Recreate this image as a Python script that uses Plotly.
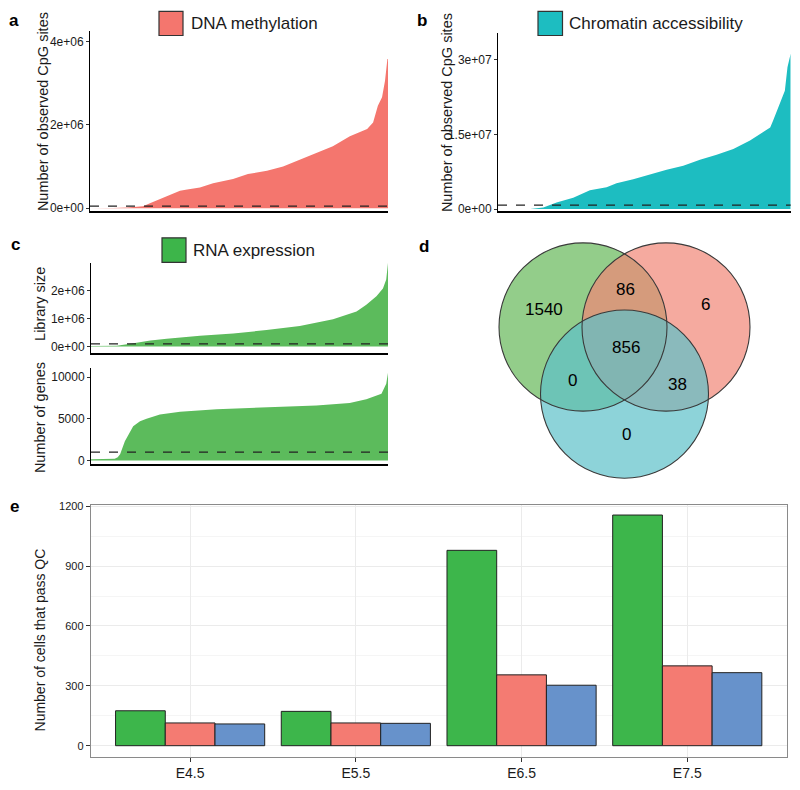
import plotly.graph_objects as go

# ---------------- data ----------------
# a: DNA methylation - observed CpG sites per cell (cells ranked, rank scaled 0..1)
met_rank = [0, 0.067, 0.077, 0.124, 0.178, 0.201, 0.258, 0.302, 0.326, 0.369, 0.413, 0.48, 0.53,
            0.594, 0.648, 0.705, 0.762, 0.815, 0.872, 0.93, 0.95, 0.966, 0.98, 0.99, 0.998, 1.0]
met_sites = [0, 0, 5e3, 2e4, 5e4, 1.2e5, 2.8e5, 4.2e5, 4.5e5, 5.0e5, 6.0e5, 7.0e5, 8.2e5,
             9.0e5, 1.0e6, 1.17e6, 1.33e6, 1.49e6, 1.73e6, 1.9e6, 2.06e6, 2.46e6, 2.66e6, 3.06e6, 3.58e6, 3.58e6]
met_threshold = 5e4
met_ticks = [0, 2e6, 4e6]
met_ticktext = ["0e+00", "2e+06", "4e+06"]

# b: Chromatin accessibility - observed CpG sites per cell
acc_rank = [0, 0.11, 0.155, 0.2, 0.257, 0.314, 0.371, 0.405, 0.462, 0.519, 0.576, 0.633, 0.69,
            0.747, 0.804, 0.861, 0.895, 0.93, 0.94, 0.963, 0.98, 0.989, 0.999, 1.0]
acc_sites = [0, 0, 3e5, 1.3e6, 2.3e6, 3.8e6, 4.4e6, 5.2e6, 6.0e6, 7.0e6, 7.9e6, 8.7e6, 9.9e6,
             1.09e7, 1.21e7, 1.38e7, 1.51e7, 1.64e7, 1.78e7, 2.15e7, 2.38e7, 2.85e7, 3.13e7, 3.13e7]
acc_threshold = 8e5
acc_ticks = [0, 1.5e7, 3e7]
acc_ticktext = ["0e+00", "1.5e+07", "3e+07"]

# c: RNA expression - library size and number of expressed genes per cell
lib_rank = [0, 0.087, 0.143, 0.2, 0.255, 0.367, 0.479, 0.591, 0.703, 0.815, 0.894, 0.927, 0.961, 0.983, 0.994, 1.0]
lib_size = [2e4, 3e4, 1.2e5, 2.2e5, 2.8e5, 3.9e5, 4.7e5, 5.9e5, 7.4e5, 9.8e5, 1.26e6, 1.5e6, 1.8e6, 2.08e6, 2.4e6, 3.0e6]
lib_threshold = 1e5
lib_ticks = [0, 1e6, 2e6]
lib_ticktext = ["0e+00", "1e+06", "2e+06"]

gene_rank = [0, 0.08, 0.09, 0.098, 0.114, 0.131, 0.142, 0.165, 0.187, 0.232, 0.3, 0.423, 0.591,
             0.759, 0.871, 0.927, 0.978, 0.994, 1.0]
n_genes = [150, 200, 400, 750, 2300, 3500, 4100, 4700, 5000, 5500, 5850, 6150, 6350,
           6600, 6900, 7350, 8000, 9200, 10500]
gene_threshold = 1000
gene_ticks = [0, 5000, 10000]
gene_ticktext = ["0", "5000", "10000"]

# d: Venn diagram of cells passing QC
venn_labels = ["1540", "86", "6", "856", "0", "38", "0"]   # RNA only, RNA&met, met only, all, RNA&acc, met&acc, acc only

# e: number of cells that pass QC per stage
stages = ["E4.5", "E5.5", "E6.5", "E7.5"]
rna_pass = [175, 172, 979, 1156]
met_pass = [114, 114, 355, 400]
acc_pass = [109, 112, 303, 366]
qc_ticks = [0, 300, 600, 900, 1200]

# ---------------- styling ----------------
W, H = 800, 790
# how the photographed page maps figure pixels to picture pixels
OFF_X = 8
OFF_Y = 11.7
SY = 0.987
FONT = "Liberation Sans, Arial, Helvetica, sans-serif"
C_MET = "#F4766E"
C_ACC = "#1DBDC1"
C_RNA = "#5CBB5C"
C_RNA_KEY = "#3DB54A"
C_E_GREEN = "#3DB64B"
C_E_RED = "#F47B72"
C_E_BLUE = "#6792CB"
TXT = "#1a1a1a"


def px(x):
    return (x - OFF_X) / W


def py(y):
    return 1 - (y / SY - OFF_Y) / H


fig = go.Figure()

area_common = dict(mode="lines", fill="tozeroy", line=dict(width=0), hoverinfo="skip", showlegend=False)
fig.add_trace(go.Scatter(x=met_rank, y=met_sites, fillcolor=C_MET, line_color=C_MET, xaxis="x", yaxis="y", **area_common))
fig.add_trace(go.Scatter(x=acc_rank, y=acc_sites, fillcolor=C_ACC, line_color=C_ACC, xaxis="x2", yaxis="y2", **area_common))
fig.add_trace(go.Scatter(x=lib_rank, y=lib_size, fillcolor=C_RNA, line_color=C_RNA, xaxis="x3", yaxis="y3", **area_common))
fig.add_trace(go.Scatter(x=gene_rank, y=n_genes, fillcolor=C_RNA, line_color=C_RNA, xaxis="x4", yaxis="y4", **area_common))

bar_line = dict(color="#222222", width=1)
for vals, col, name in [(rna_pass, C_E_GREEN, "RNA expression"),
                        (met_pass, C_E_RED, "DNA methylation"),
                        (acc_pass, C_E_BLUE, "Chromatin accessibility")]:
    fig.add_trace(go.Bar(x=stages, y=vals, name=name, marker=dict(color=col, line=bar_line),
                         xaxis="x6", yaxis="y6", showlegend=False))


def small_xaxis(dom, anchor):
    return dict(domain=dom, range=[0, 1], showticklabels=False, ticks="", showgrid=False, anchor=anchor,
                zeroline=False, showline=True, linecolor="black", linewidth=1.5, fixedrange=True)


def small_yaxis(dom, rng, tv, tt, anchor):
    return dict(domain=dom, range=rng, tickvals=tv, ticktext=tt, ticks="outside", ticklen=3,
                tickcolor="#333", tickfont=dict(size=12, color=TXT, family=FONT), showgrid=False,
                zeroline=False, showline=True, linecolor="black", linewidth=1, anchor=anchor)


layout = dict(
    width=W, height=H, margin=dict(l=0, r=0, t=0, b=0),
    paper_bgcolor="white", plot_bgcolor="white",
    font=dict(family=FONT, color=TXT),
    barmode="group", bargap=0.1, bargroupgap=0,
    showlegend=False,
)
layout["xaxis"] = small_xaxis([px(90), px(388)], "y")
layout["yaxis"] = small_yaxis([py(210), py(31)], [-0.06e6, 4.24e6], met_ticks, met_ticktext, "x")
layout["xaxis2"] = small_xaxis([px(498), px(790.7)], "y2")
layout["yaxis2"] = small_yaxis([py(210), py(33)], [-0.034e7, 3.53e7], acc_ticks, acc_ticktext, "x2")
layout["xaxis3"] = small_xaxis([px(91), px(388)], "y3")
layout["yaxis3"] = small_yaxis([py(351.7), py(261.7)], [-0.22e6, 3.01e6], lib_ticks, lib_ticktext, "x3")
layout["xaxis4"] = small_xaxis([px(91), px(388)], "y4")
layout["yaxis4"] = small_yaxis([py(463.3), py(367.3)], [-480, 11040], gene_ticks, gene_ticktext, "x4")

# Venn axes: 1 unit = 1 pixel of the picture
layout["xaxis5"] = dict(domain=[px(420), px(800)], range=[420, 800], visible=False, anchor="y5", fixedrange=True)
layout["yaxis5"] = dict(domain=[py(480), py(230)], range=[480, 230], visible=False, anchor="x5", fixedrange=True)

# Panel e
layout["xaxis6"] = dict(domain=[px(90.7), px(786.7)], anchor="y6", type="category", range=[-0.6, 3.6],
                        ticks="outside", ticklen=4, tickcolor="#333",
                        tickfont=dict(size=14, color=TXT, family=FONT),
                        showgrid=True, gridcolor="#ebebeb", gridwidth=1,
                        showline=True, mirror=True, linecolor="#8a8a8a", linewidth=1, zeroline=False)
layout["yaxis6"] = dict(domain=[py(755), py(503.3)], anchor="x6", range=[-55, 1208.5], tickvals=qc_ticks,
                        ticks="outside", ticklen=4, tickcolor="#333",
                        tickfont=dict(size=11, color=TXT, family=FONT),
                        showgrid=True, gridcolor="#ebebeb", gridwidth=1,
                        minor=dict(dtick=150, tick0=150, showgrid=True, gridcolor="#f5f5f5", ticks=""),
                        showline=True, mirror=True, linecolor="#8a8a8a", linewidth=1, zeroline=False)
fig.update_layout(**layout)

shapes = []
# dashed threshold lines
for ax, thr in [("", met_threshold), ("2", acc_threshold), ("3", lib_threshold), ("4", gene_threshold)]:
    shapes.append(dict(type="line", xref=f"x{ax} domain", yref=f"y{ax}", x0=0, x1=1, y0=thr, y1=thr,
                       line=dict(color="#222", width=1.3, dash="dash")))

# legend keys
for (x0, y0, x1, y1, col) in [(159, 11, 183, 35, C_MET), (538, 11, 562.5, 35, C_ACC), (162, 237, 186, 261.5, C_RNA_KEY)]:
    shapes.append(dict(type="rect", xref="paper", yref="paper", x0=px(x0), x1=px(x1), y0=py(y1), y1=py(y0),
                       fillcolor=col, line=dict(color="#333", width=1.2)))

# Venn circles
R = 84
circles = [(583, 326, "#65B858"), (666, 326, "#F18676"), (624.5, 393, "#5DC1C9")]
for cx, cy, col in circles:
    shapes.append(dict(type="circle", xref="x5", yref="y5", x0=cx - R, x1=cx + R, y0=cy - R, y1=cy + R,
                       fillcolor=col, opacity=0.7, line=dict(width=0), layer="above"))
for cx, cy, col in circles:
    shapes.append(dict(type="circle", xref="x5", yref="y5", x0=cx - R, x1=cx + R, y0=cy - R, y1=cy + R,
                       fillcolor="rgba(0,0,0,0)", line=dict(color="#3a3a3a", width=1.1), layer="above"))
fig.update_layout(shapes=shapes)

ann = []
# panel letters
for letter, x, y in [("a", 14, 20), ("b", 422, 20), ("c", 15, 244), ("d", 424, 246), ("e", 14, 505)]:
    ann.append(dict(text=f"<b>{letter}</b>", x=px(x), y=py(y), xref="paper", yref="paper", showarrow=False,
                    xanchor="center", yanchor="middle", font=dict(size=17, color="black", family=FONT)))
# legend texts
for t, x, y in [("DNA methylation", 189, 23), ("Chromatin accessibility", 567, 23), ("RNA expression", 191, 249.5)]:
    ann.append(dict(text=t, x=px(x), y=py(y), xref="paper", yref="paper", showarrow=False,
                    xanchor="left", yanchor="middle", font=dict(size=17, color=TXT, family=FONT)))
# y-axis titles
for t, x, y, s in [("Number of observed CpG sites", 43, 111.5, 14.5),
                   ("Number of observed CpG sites", 447, 111.5, 14.5),
                   ("Library size", 40, 303, 14.5),
                   ("Number of genes", 40, 417, 14.5),
                   ("Number of cells that pass QC", 40, 639, 14)]:
    ann.append(dict(text=t, x=px(x), y=py(y), xref="paper", yref="paper", showarrow=False, textangle=-90,
                    xanchor="center", yanchor="middle", font=dict(size=s, color=TXT, family=FONT)))
# Venn counts
venn_pos = [(543.5, 309), (625, 288.5), (705, 303.5), (626, 347), (572, 379), (677, 383.5), (626.5, 433.5)]
for lab, (x, y) in zip(venn_labels, venn_pos):
    ann.append(dict(text=lab, x=x, y=y, xref="x5", yref="y5", showarrow=False,
                    xanchor="center", yanchor="middle", font=dict(size=17, color="black", family=FONT)))
fig.update_layout(annotations=ann)

fig.write_html("out.html")
